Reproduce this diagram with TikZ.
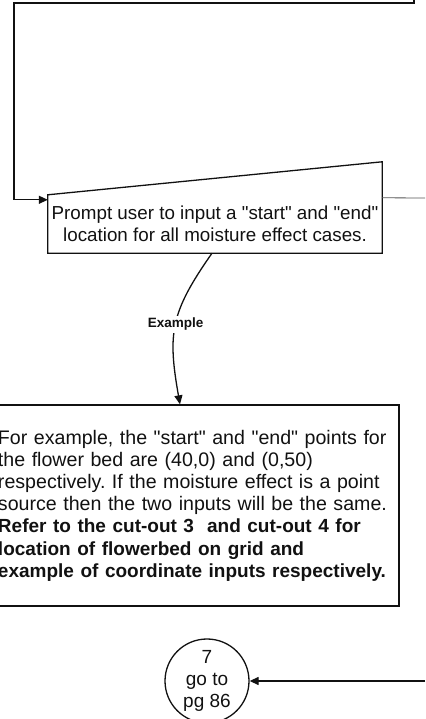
\documentclass[tikz,border=0pt]{standalone}
\usepackage{fontspec}
\setmainfont{Liberation Sans}
\usepackage{xcolor}
\definecolor{Ink}{HTML}{111111}
\definecolor{Faint}{HTML}{555555}
\usetikzlibrary{arrows.meta,calc}
\newcommand{\qt}[1]{\textquotedbl#1\textquotedbl}
\frenchspacing
\tikzset{
  x=1pt,y=1pt,
  outline/.style={draw=Ink,line width=1.3pt},
  inbox/.style={inner sep=0pt,align=center,text=Ink,
    font=\fontsize{18.8}{22}\selectfont},
  note/.style={outline,inner xsep=8pt,inner ysep=0pt,align=left,text=Ink,
    font=\fontsize{19.6}{22.2}\selectfont},
  connector/.style={outline,circle,inner sep=0pt,align=center,text=Ink,
    font=\fontsize{19}{22}\selectfont},
  arrow/.style={-{Triangle[length=9pt,width=8pt]},line width=1.3pt,draw=Ink},
  feed/.style={line width=.8pt,draw=Faint},
  tag/.style={fill=white,inner sep=2pt,text=Ink,font=\fontsize{13.5}{16}\selectfont\bfseries}
}
\begin{document}
\begin{tikzpicture}
\useasboundingbox (0,0) rectangle (425,719);
\clip (0,0) rectangle (425,719);
% manual input step
\node[inbox,minimum width=334,minimum height=58] (prompt) at (215,495)
  {Prompt user to input a \qt{start} and \qt{end}\\location for all moisture effect cases.};
\draw[outline] (prompt.south west) -- (prompt.north west)
  -- ([yshift=33]prompt.north east) -- (prompt.south east) -- cycle;
% explanation box
\node[note,minimum width=409,minimum height=201,text width=393] (detail) at (194.5,213.5)
  {For example, the \qt{start} and \qt{end} points for\\
   the flower bed are (40,0) and (0,50)\\
   respectively. If the moisture effect is a point\\
   source then the two inputs will be the same.\\
   {\fontsize{19}{22.2}\selectfont\bfseries Refer to the cut-out 3 \ and cut-out 4 for\\
   location of flowerbed on grid and\\
   example of coordinate inputs respectively.}};
% off-page connector
\node[connector,minimum size=84] (goto) at (207,38) {7\\go to\\pg 86};
% free ends
\coordinate (loopTop) at (414,725);
\coordinate (loopLeft) at (14,716);
\coordinate (fromRight) at (425,521);
\coordinate (fromRightLow) at (425,38);
\draw[arrow] (loopTop) |- (loopLeft) |- ([yshift=-5]prompt.north west);
\draw[feed] (fromRight) -- ([yshift=-3]prompt.north east);
\draw[arrow] ([xshift=-3]prompt.south) to[out=235,in=100,looseness=1.2]
  node[tag] {Example} ([xshift=-14.5]detail.north);
\draw[arrow] (fromRightLow) -- (goto);
\end{tikzpicture}
\end{document}
